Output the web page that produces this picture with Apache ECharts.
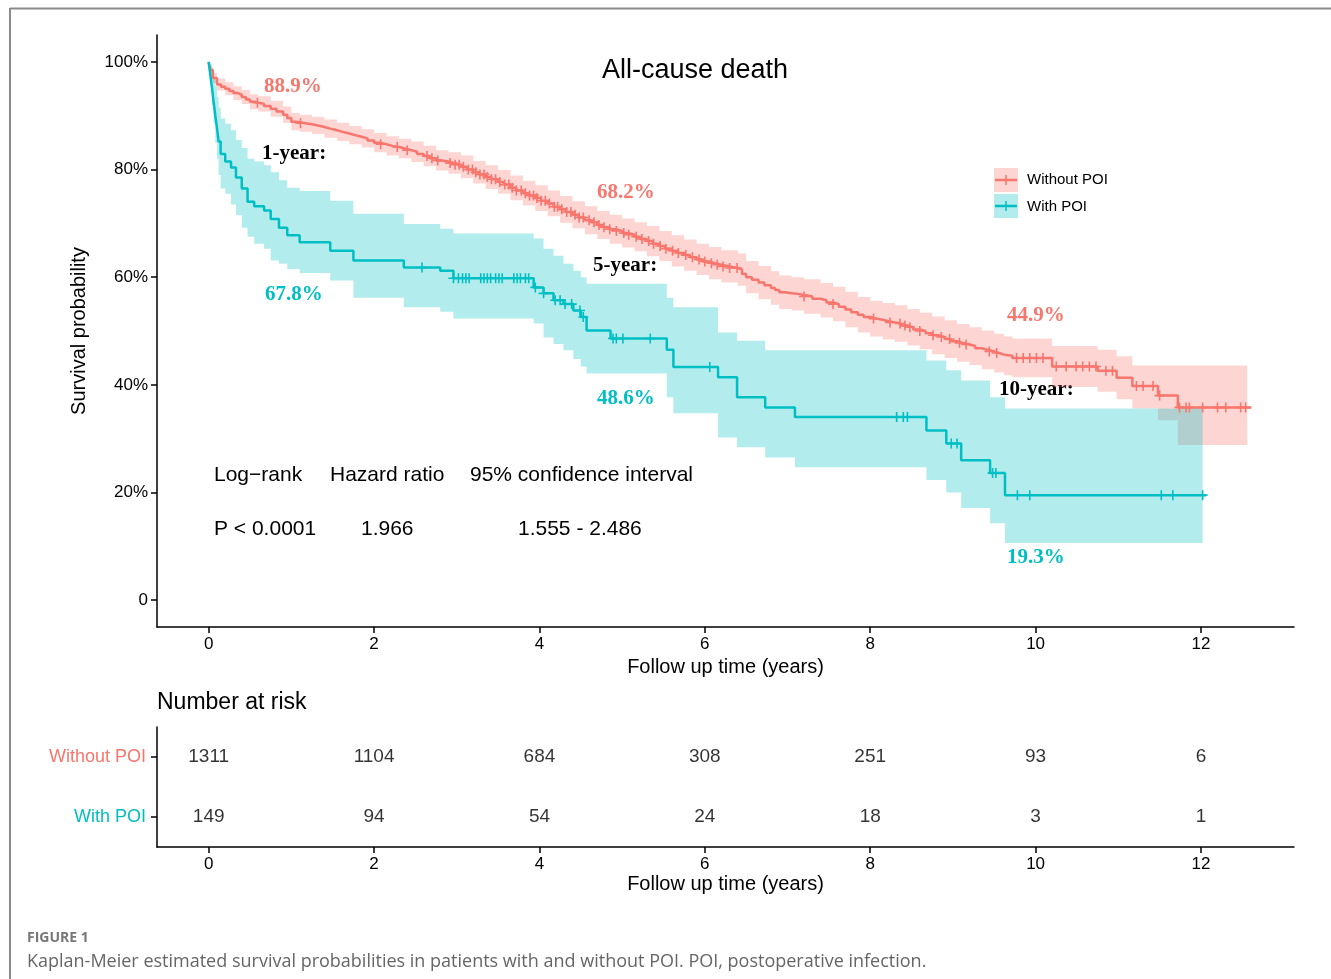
<!DOCTYPE html>
<html>
<head>
<meta charset="utf-8">
<title>All-cause death</title>
<script src="https://cdn.jsdelivr.net/npm/echarts@6/dist/echarts.min.js"></script>
<style>
  html, body { margin: 0; padding: 0; background: #fff; }
  #chart { width: 1331px; height: 979px; }
</style>
</head>
<body>
<div id="chart"></div>
<script>
// axis ticks
const xTicks = [0, 2, 4, 6, 8, 10, 12]
const yTicks = [0, 20, 40, 60, 80, 100]

// Without POI: step curve (time in years, survival %)
const redT = [0, 0.02, 0.05, 0.1, 0.15, 0.2, 0.25, 0.3, 0.35, 0.4, 0.45, 0.5, 0.55, 0.6, 0.67, 0.75, 0.82, 0.9, 0.95, 1.0,
  1.05, 1.1, 1.17, 1.25, 1.32, 1.4, 1.47, 1.55, 1.62, 1.7, 1.77, 1.85, 1.92, 2.0, 2.07, 2.15, 2.22, 2.3, 2.37, 2.45,
  2.52, 2.6, 2.67, 2.75, 2.82, 2.9, 2.97, 3.05, 3.12, 3.2, 3.27, 3.35, 3.42, 3.5, 3.57, 3.65, 3.72, 3.8, 3.87, 3.95,
  4.02, 4.1, 4.17, 4.25, 4.32, 4.4, 4.47, 4.55, 4.62, 4.7, 4.77, 4.85, 4.92, 5.0, 5.07, 5.15, 5.22, 5.3, 5.37, 5.45,
  5.52, 5.6, 5.67, 5.75, 5.82, 5.9, 5.97, 6.05, 6.12, 6.2, 6.3, 6.4, 6.45, 6.5, 6.57, 6.65, 6.72, 6.8, 6.85, 6.9,
  6.97, 7.05, 7.12, 7.2, 7.3, 7.4, 7.47, 7.55, 7.62, 7.7, 7.77, 7.85, 7.92, 8.0, 8.07, 8.15, 8.22, 8.3, 8.37, 8.45,
  8.52, 8.6, 8.67, 8.75, 8.82, 8.9, 8.97, 9.05, 9.12, 9.2, 9.27, 9.35, 9.42, 9.5, 9.56, 9.62, 9.72, 10.2, 10.75, 10.98,
  11.17, 11.48, 11.72]
const redS = [100, 98.5, 97.0, 95.8, 95.4, 95.0, 94.6, 94.2, 93.9, 93.5, 93.0, 92.6, 92.4, 92.2, 91.8, 91.3, 90.8, 90.2, 89.6, 88.9,
  88.8, 88.6, 88.4, 88.2, 87.9, 87.6, 87.3, 87.0, 86.7, 86.4, 86.1, 85.8, 85.4, 85.0, 84.7, 84.4, 84.2, 83.9, 83.6, 83.3,
  82.9, 82.5, 82.1, 81.7, 81.5, 81.2, 80.9, 80.5, 80.0, 79.5, 79.1, 78.6, 78.2, 77.7, 77.2, 76.6, 76.1, 75.6, 75.2, 74.7,
  74.2, 73.7, 73.1, 72.6, 72.1, 71.6, 71.1, 70.6, 70.2, 69.7, 69.3, 68.9, 68.6, 68.2, 67.9, 67.5, 67.1, 66.7, 66.2, 65.8,
  65.3, 64.9, 64.5, 64.1, 63.7, 63.3, 62.9, 62.6, 62.3, 62.0, 61.7, 61.4, 60.6, 60.0, 59.5, 59.0, 58.5, 58.0, 57.6, 57.2,
  57.0, 56.9, 56.7, 56.4, 56.0, 55.7, 55.3, 55.0, 54.5, 54.0, 53.5, 53.0, 52.6, 52.3, 52.1, 51.8, 51.6, 51.4, 51.0, 50.7,
  50.3, 50.0, 49.6, 49.2, 48.9, 48.5, 48.1, 47.8, 47.5, 47.2, 46.8, 46.5, 46.2, 45.9, 45.6, 45.4, 45.0, 43.4, 42.6, 41.3,
  39.8, 38.0, 35.8]
const redEnd = 12.61

// Without POI: 95% band (its own step times)
const redBandT = [0, 0.02, 0.05, 0.1, 0.2, 0.3, 0.4, 0.5, 0.6, 0.75, 0.9, 1.0, 1.1, 1.25, 1.4, 1.55, 1.7, 1.85, 2.0, 2.15,
  2.3, 2.45, 2.6, 2.75, 2.9, 3.05, 3.2, 3.35, 3.5, 3.65, 3.8, 3.95, 4.1, 4.25, 4.4, 4.55, 4.7, 4.85, 5.0, 5.15,
  5.3, 5.45, 5.6, 5.75, 5.9, 6.05, 6.2, 6.4, 6.5, 6.65, 6.8, 6.9, 7.05, 7.2, 7.4, 7.55, 7.7, 7.85, 8.0, 8.15,
  8.3, 8.45, 8.6, 8.75, 8.9, 9.05, 9.2, 9.35, 9.5, 9.62, 9.72, 10.2, 10.75, 10.98, 11.17, 11.48, 11.72]
const redLo = [100, 97.9, 96.1, 94.7, 93.8, 92.9, 92.2, 91.2, 90.8, 89.8, 88.7, 87.3, 87.0, 86.6, 85.9, 85.3, 84.7, 84.1, 83.2, 82.6,
  82.1, 81.4, 80.6, 79.8, 79.2, 78.4, 77.4, 76.4, 75.5, 74.3, 73.3, 72.3, 71.3, 70.1, 69.1, 68.0, 67.1, 66.2, 65.5, 64.8,
  63.9, 63.0, 62.0, 61.2, 60.4, 59.6, 59.0, 58.4, 57.0, 55.9, 54.9, 54.1, 53.8, 53.2, 52.5, 51.8, 50.7, 49.7, 49.0, 48.4,
  48.0, 47.3, 46.6, 45.7, 45.0, 44.3, 43.7, 42.9, 42.3, 41.8, 41.4, 39.6, 38.7, 37.3, 35.6, 33.4, 28.8]
const redHi = [100, 99.1, 97.9, 96.9, 96.2, 95.5, 94.8, 94.0, 93.6, 92.8, 91.7, 90.5, 90.2, 89.8, 89.3, 88.7, 88.1, 87.5, 86.8, 86.2,
  85.7, 85.2, 84.4, 83.6, 83.2, 82.6, 81.6, 80.8, 79.9, 78.9, 77.9, 77.1, 76.1, 75.1, 74.1, 73.2, 72.3, 71.6, 70.9, 70.2,
  69.5, 68.6, 67.8, 67.0, 66.2, 65.6, 65.0, 64.4, 63.0, 62.1, 61.1, 60.3, 60.0, 59.6, 58.9, 58.2, 57.3, 56.3, 55.6, 55.2,
  54.8, 54.1, 53.4, 52.7, 52.0, 51.3, 50.7, 50.1, 49.5, 49.0, 48.6, 47.2, 46.5, 45.3, 43.6, 43.6, 43.6]
const redBandEnd = 12.56
const redCensor = [0.59, 1.11, 2.08, 2.28, 2.4, 2.64, 2.7, 2.77, 2.92, 2.98, 3.03, 3.08, 3.14, 3.19, 3.23, 3.28, 3.33, 3.37,
  3.42, 3.47, 3.52, 3.58, 3.63, 3.67, 3.72, 3.78, 3.83, 3.88, 3.93, 3.97, 4.02, 4.07, 4.12, 4.18, 4.22, 4.27, 4.33, 4.38,
  4.43, 4.48, 4.53, 4.6, 4.66, 4.72, 4.78, 4.85, 4.93, 5.02, 5.08, 5.17, 5.24, 5.32, 5.38, 5.46, 5.53, 5.61, 5.68, 5.77,
  5.85, 5.93, 6.0, 6.08, 6.15, 6.22, 6.3, 6.39, 7.2, 7.55, 8.04, 8.24, 8.36, 8.42, 8.48, 8.6, 8.76, 8.86, 8.96, 9.08, 9.16,
  9.44, 9.53, 9.77, 9.85, 9.93, 10.01, 10.09, 10.25, 10.37, 10.49, 10.57, 10.65, 10.73, 10.85, 10.93, 11.22, 11.3, 11.42,
  11.5, 11.74, 11.82, 11.86, 12.02, 12.2, 12.3, 12.48, 12.54]

// With POI: step curve
const tealT = [0, 0.02, 0.04, 0.06, 0.08, 0.1, 0.12, 0.145, 0.2, 0.27, 0.33, 0.4, 0.47, 0.55, 0.67, 0.75, 0.85, 0.95, 1.1, 1.47,
  1.75, 2.36, 2.8, 2.96, 3.93, 4.05, 4.17, 4.29, 4.41, 4.5, 4.57, 4.86, 5.54, 5.62, 6.16, 6.39, 6.73, 7.09, 8.68, 8.92,
  9.1, 9.45, 9.63]
const tealS = [100, 97.5, 95.2, 92.5, 90, 87.8, 85.2, 82.9, 81.5, 80.4, 78.5, 76.5, 74.0, 73.2, 72.4, 70.8, 69.2, 67.8, 66.5, 64.9,
  63.1, 61.8, 61.2, 59.8, 58.1, 57.0, 55.7, 55.0, 53.8, 52.6, 50.1, 48.6, 46.5, 43.3, 41.4, 37.7, 35.8, 34.0, 31.5, 29.1,
  26.0, 23.6, 19.5]
const tealLo = [100, 95.5, 92.0, 88.5, 85.0, 82.0, 79.0, 76.5, 75.5, 73.5, 71.5, 69.2, 67.5, 66.2, 65.3, 63.1, 62.5, 61.5, 60.8, 59.4,
  56.2, 54.4, 53.6, 52.3, 51.4, 48.8, 47.6, 46.4, 44.8, 43.4, 42.1, 42.1, 37.7, 34.7, 30.2, 28.4, 26.5, 24.7, 22.3, 20.0,
  17.1, 14.3, 10.6]
const tealHi = [100, 99.5, 98.5, 97.0, 95.5, 93.5, 91.5, 89.5, 88.5, 87.3, 85.5, 84.0, 82.0, 81.5, 80.8, 79.5, 78.0, 76.6, 76.0, 74.2,
  71.8, 69.9, 69.0, 68.1, 67.2, 65.3, 64.0, 62.5, 61.2, 60.0, 58.8, 58.8, 56.2, 54.4, 49.7, 48.2, 46.4, 46.4, 44.5, 42.7,
  40.8, 37.7, 35.6]
const tealEnd = 12.06
const tealBandEnd = 12.02
const tealCensor = [2.58, 2.96, 3.02, 3.07, 3.11, 3.15, 3.29, 3.33, 3.37, 3.41, 3.47, 3.51, 3.55, 3.69, 3.73, 3.77, 3.83, 3.87,
  3.95, 4.05, 4.19, 4.25, 4.31, 4.39, 4.49, 4.53, 4.89, 4.93, 5.01, 5.34, 6.06, 8.32, 8.4, 8.45, 8.98, 9.05, 9.48, 9.52,
  9.78, 9.93, 11.52, 11.66, 12.02]

// number at risk
const groups = ['With POI', 'Without POI']
const riskTimes = [0, 2, 4, 6, 8, 10, 12]
const riskWithout = [1311, 1104, 684, 308, 251, 93, 6]
const riskWith = [149, 94, 54, 24, 18, 3, 1]

const RED = '#F8766D'
const TEAL = '#00BFC4'
const SANS = '"Liberation Sans", Arial, sans-serif'
const SERIF = '"Liberation Serif", "Times New Roman", serif'
const PLUS = 'path://M4.2,0H5.8V10H4.2Z M0,4.2H10V5.8H0Z'

const chart = echarts.init(document.getElementById('chart'), null, { renderer: 'canvas' })

// value of the step curve at time t
function stepAt(ts, ss, t) {
  let v = ss[0]
  for (let i = 0; i < ts.length; i++) {
    if (ts[i] <= t) v = ss[i]
  }
  return v
}

function curve(ts, ss, endT) {
  const d = ts.map((t, i) => [t, ss[i]])
  d.push([endT, ss[ss.length - 1]])
  return d
}

// confidence band as one step polygon
function band(ts, lo, hi, endT, fill) {
  return {
    type: 'custom',
    xAxisIndex: 0,
    yAxisIndex: 0,
    silent: true,
    z: 1,
    data: [[0, 100]],
    renderItem: (params, api) => {
      const pts = []
      for (let i = 0; i < ts.length; i++) {
        const t1 = i < ts.length - 1 ? ts[i + 1] : endT
        pts.push(api.coord([ts[i], hi[i]]), api.coord([t1, hi[i]]))
      }
      for (let i = ts.length - 1; i >= 0; i--) {
        const t1 = i < ts.length - 1 ? ts[i + 1] : endT
        pts.push(api.coord([t1, lo[i]]), api.coord([ts[i], lo[i]]))
      }
      return { type: 'polygon', shape: { points: pts }, style: { fill: fill } }
    },
  }
}

const axisLine = { show: true, onZero: false, lineStyle: { color: '#000', width: 1.5 } }
const axisTick = (vals) => ({ show: true, customValues: vals, length: 6, lineStyle: { color: '#000', width: 1.5 } })
const timeLabel = { customValues: xTicks, fontSize: 17, color: '#000', fontFamily: SANS, margin: 9 }
const timeName = { fontSize: 20, color: '#000', fontFamily: SANS }

function txt(x, y, text, opts) {
  return {
    type: 'text',
    x: x,
    y: y,
    silent: true,
    style: Object.assign({
      text: text,
      fill: '#000',
      font: '21px ' + SANS,
      textAlign: 'left',
      textVerticalAlign: 'middle',
    }, opts || {}),
  }
}

const serifBold = (c) => ({ font: 'bold 21px ' + SERIF, fill: c })

const option = {
  backgroundColor: '#fff',
  animation: false,
  grid: [
    { left: 157, right: 37, top: 35, height: 592 },
    { left: 157, right: 37, top: 727, height: 120 },
  ],
  xAxis: [
    {
      type: 'value',
      gridIndex: 0,
      min: -0.625,
      max: 13.125,
      axisLine: axisLine,
      axisTick: axisTick(xTicks),
      axisLabel: timeLabel,
      splitLine: { show: false },
      name: 'Follow up time (years)',
      nameLocation: 'middle',
      nameGap: 27,
      nameTextStyle: timeName,
    },
    {
      type: 'value',
      gridIndex: 1,
      min: -0.625,
      max: 13.125,
      axisLine: axisLine,
      axisTick: axisTick(xTicks),
      axisLabel: timeLabel,
      splitLine: { show: false },
      name: 'Follow up time (years)',
      nameLocation: 'middle',
      nameGap: 27,
      nameTextStyle: timeName,
    },
  ],
  yAxis: [
    {
      type: 'value',
      gridIndex: 0,
      min: -5,
      max: 105,
      axisLine: axisLine,
      axisTick: axisTick(yTicks),
      axisLabel: {
        customValues: yTicks,
        formatter: (v) => (v === 0 ? '0' : v + '%'),
        fontSize: 17,
        color: '#000',
        fontFamily: SANS,
        margin: 9,
      },
      splitLine: { show: false },
      name: 'Survival probability',
      nameLocation: 'middle',
      nameRotate: 90,
      nameGap: 68,
      nameTextStyle: timeName,
    },
    {
      type: 'category',
      gridIndex: 1,
      data: groups,
      axisLine: axisLine,
      axisTick: { show: true, alignWithLabel: true, length: 6, lineStyle: { color: '#000', width: 1.5 } },
      axisLabel: {
        fontSize: 18,
        fontFamily: SANS,
        margin: 11,
        color: (v) => (v === 'Without POI' ? RED : TEAL),
      },
      splitLine: { show: false },
    },
  ],
  series: [
    band(redBandT, redLo, redHi, redBandEnd, 'rgba(248,118,109,0.3)'),
    band(tealT, tealLo, tealHi, tealBandEnd, 'rgba(0,191,196,0.3)'),
    {
      name: 'Without POI',
      type: 'line',
      step: 'end',
      showSymbol: false,
      silent: true,
      z: 3,
      data: curve(redT, redS, redEnd),
      lineStyle: { color: RED, width: 2.5 },
    },
    {
      name: 'With POI',
      type: 'line',
      step: 'end',
      showSymbol: false,
      silent: true,
      z: 3,
      data: curve(tealT, tealS, tealEnd),
      lineStyle: { color: TEAL, width: 2.5 },
    },
    {
      type: 'scatter',
      symbol: PLUS,
      symbolSize: 10,
      silent: true,
      z: 4,
      itemStyle: { color: RED, opacity: 1 },
      data: redCensor.map((t) => [t, stepAt(redT, redS, t)]),
    },
    {
      type: 'scatter',
      symbol: PLUS,
      symbolSize: 10,
      silent: true,
      z: 4,
      itemStyle: { color: TEAL, opacity: 1 },
      data: tealCensor.map((t) => [t, stepAt(tealT, tealS, t)]),
    },
    {
      type: 'scatter',
      xAxisIndex: 1,
      yAxisIndex: 1,
      symbolSize: 1,
      silent: true,
      itemStyle: { color: 'rgba(0,0,0,0)' },
      label: { show: true, position: 'inside', formatter: (p) => String(p.value[2]), fontSize: 19, color: '#000', fontFamily: SANS },
      data: riskTimes.map((t, i) => [t, 'Without POI', riskWithout[i]]),
    },
    {
      type: 'scatter',
      xAxisIndex: 1,
      yAxisIndex: 1,
      symbolSize: 1,
      silent: true,
      itemStyle: { color: 'rgba(0,0,0,0)' },
      label: { show: true, position: 'inside', formatter: (p) => String(p.value[2]), fontSize: 19, color: '#000', fontFamily: SANS },
      data: riskTimes.map((t, i) => [t, 'With POI', riskWith[i]]),
    },
  ],
  graphic: [
    // figure frame
    { type: 'line', silent: true, shape: { x1: 10, y1: 8.5, x2: 1331, y2: 8.5 }, style: { stroke: '#8a8a8a', lineWidth: 2 } },
    { type: 'line', silent: true, shape: { x1: 10, y1: 8, x2: 10, y2: 979 }, style: { stroke: '#8a8a8a', lineWidth: 2 } },

    txt(695, 71, 'All-cause death', { font: '27px ' + SANS, textAlign: 'center' }),

    // landmark survival labels
    txt(264, 87, '88.9%', serifBold(RED)),
    txt(262, 154, '1-year:', serifBold('#000')),
    txt(265, 295, '67.8%', serifBold(TEAL)),
    txt(597, 193, '68.2%', serifBold(RED)),
    txt(593, 266, '5-year:', serifBold('#000')),
    txt(597, 399, '48.6%', serifBold(TEAL)),
    txt(1007, 316, '44.9%', serifBold(RED)),
    txt(999, 390, '10-year:', serifBold('#000')),
    txt(1007, 558, '19.3%', serifBold(TEAL)),

    // statistics
    txt(214, 475, 'Log\u2212rank'),
    txt(330, 475, 'Hazard ratio'),
    txt(470, 475, '95% confidence interval'),
    txt(214, 529, 'P < 0.0001'),
    txt(361, 529, '1.966'),
    txt(518, 529, '1.555 - 2.486'),

    // legend
    { type: 'rect', silent: true, shape: { x: 994, y: 168, width: 24, height: 24 }, style: { fill: 'rgba(248,118,109,0.3)' } },
    { type: 'line', silent: true, shape: { x1: 995, y1: 180, x2: 1017, y2: 180 }, style: { stroke: RED, lineWidth: 2.5 } },
    { type: 'line', silent: true, shape: { x1: 1006, y1: 175, x2: 1006, y2: 185 }, style: { stroke: RED, lineWidth: 1.5 } },
    { type: 'rect', silent: true, shape: { x: 994, y: 194, width: 24, height: 24 }, style: { fill: 'rgba(0,191,196,0.3)' } },
    { type: 'line', silent: true, shape: { x1: 995, y1: 206, x2: 1017, y2: 206 }, style: { stroke: TEAL, lineWidth: 2.5 } },
    { type: 'line', silent: true, shape: { x1: 1006, y1: 201, x2: 1006, y2: 211 }, style: { stroke: TEAL, lineWidth: 1.5 } },
    txt(1027, 180, 'Without POI', { font: '15px ' + SANS }),
    txt(1027, 207, 'With POI', { font: '15px ' + SANS }),

    // risk table title
    txt(157, 703, 'Number at risk', { font: '23px ' + SANS }),

    // caption
    txt(27, 938, 'FIGURE 1', { font: 'bold 14px "Open Sans", Lato, sans-serif', fill: '#777' }),
    txt(27, 962, 'Kaplan-Meier estimated survival probabilities in patients with and without POI. POI, postoperative infection.',
      { font: '18px "Open Sans", Lato, sans-serif', fill: '#666' }),
  ],
}

chart.setOption(option)

window.addEventListener('resize', () => chart.resize())
</script>
</body>
</html>
